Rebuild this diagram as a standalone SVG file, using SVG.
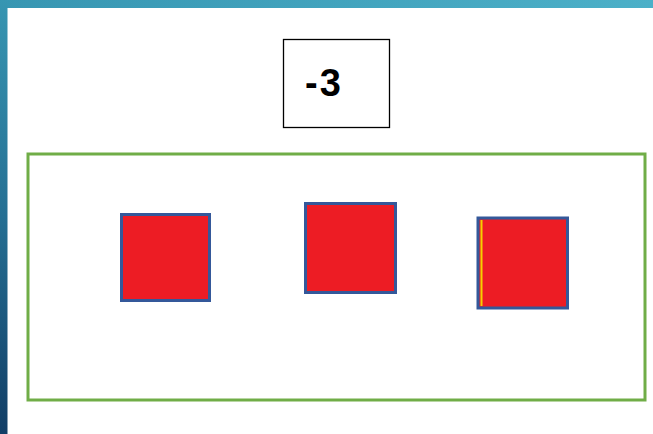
<svg xmlns="http://www.w3.org/2000/svg" width="653" height="434" viewBox="0 0 653 434">
<defs>
<linearGradient id="bandTop" x1="0" y1="0" x2="1" y2="0">
<stop offset="0" stop-color="#3796b2"/>
<stop offset="1" stop-color="#4cb0c8"/>
</linearGradient>
<linearGradient id="bandLeft" x1="0" y1="0" x2="0" y2="1">
<stop offset="0" stop-color="#3796b2"/>
<stop offset="0.5" stop-color="#256f93"/>
<stop offset="1" stop-color="#123e66"/>
</linearGradient>
</defs>
<style>
.sq{fill:#ed1c24;stroke:#34589a;stroke-width:3}
.lbl{font-family:"Liberation Sans",Arial,sans-serif;font-weight:bold;font-size:38px;fill:#000;letter-spacing:2px}
</style>
<rect x="0" y="0" width="653" height="434" fill="#ffffff"/>
<rect x="0" y="0" width="653" height="8" fill="url(#bandTop)"/>
<rect x="0" y="0" width="7.5" height="434" fill="url(#bandLeft)"/>
<g id="label-box">
<rect x="283.5" y="39.5" width="106" height="88" fill="#ffffff" stroke="#000000" stroke-width="1.3"/>
<text class="lbl" x="305" y="96">-3</text>
</g>
<g id="container">
<rect x="28" y="154" width="617" height="246" fill="none" stroke="#70ad47" stroke-width="3"/>
</g>
<g id="square1"><rect class="sq" x="121.5" y="214.5" width="88" height="86"/></g>
<g id="square2"><rect class="sq" x="305.5" y="203.5" width="90" height="89"/></g>
<g id="square3"><rect class="sq" x="478" y="218" width="89.5" height="90"/>
<rect x="480.5" y="220" width="2" height="86" fill="#f5d000"/></g>
<g id="connectors"/>
</svg>
